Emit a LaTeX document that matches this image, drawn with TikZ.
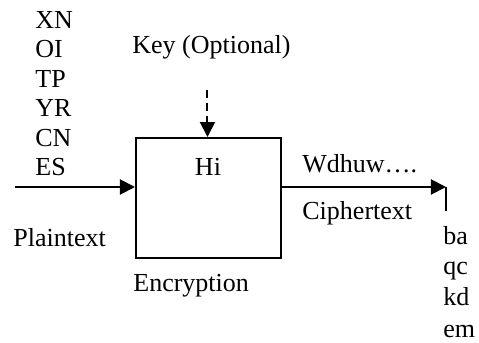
\documentclass[tikz,border=0pt]{standalone}
\usepackage{fontspec}
\setmainfont{Liberation Serif}
\usetikzlibrary{arrows.meta,positioning}

\begin{document}
\begin{tikzpicture}[x=0.5pt,y=-0.5pt,font=\fontsize{13}{15}\selectfont,
    lbl/.style={anchor=base west,inner sep=0pt},
    flow/.style={line width=1pt,-{Triangle[length=7.5pt,width=7.5pt]}}]
        \useasboundingbox (0,0) rectangle (479,343);
        %nodes
        \node[draw, line width=1pt, minimum width=72.5pt, minimum height=60pt, inner sep=0pt] (enc) at (208.5,198) {};
        \node[anchor=base, inner sep=0pt] (hi) at (208,175) {Hi};
        \node[lbl] (x) at (35,28) {XN};
        \node[lbl] (o) at (35,57.5) {OI};
        \node[lbl] (t) at (35,87) {TP};
        \node[lbl] (y) at (35,116.5) {YR};
        \node[lbl] (c) at (35,146) {CN};
        \node[lbl] (e) at (35,175.5) {ES};
        \node[lbl] (plain) at (13,246) {Plaintext};
        \node[lbl] (keytxt) at (132,53) {Key (Optional)};
        \node[lbl] (enctxt) at (133,291.5) {Encryption};
        \node[lbl] (w) at (302,172) {Wdhuw….};
        \node[lbl] (cipher) at (302,220) {Ciphertext};
        \node[lbl] (b) at (443,244) {ba};
        \node[lbl] (q) at (443,275) {qc};
        \node[lbl] (k) at (443,306) {kd};
        \node[lbl] (m) at (443,337) {em};
        \coordinate (pin) at (15,187);
        \coordinate (pout) at (446,187);
        \coordinate (tail) at (446,211);
        \coordinate (key) at (207.5,90);
        %edges
        \draw[flow] (pin) -- (pin -| enc.west);
        \draw[flow] (pin -| enc.east) -- (pout);
        \draw[line width=1pt] (pout) -- (tail);
        \draw[flow, dash pattern=on 4pt off 2.5pt] (key) -- (key |- enc.north);
\end{tikzpicture}
\end{document}
